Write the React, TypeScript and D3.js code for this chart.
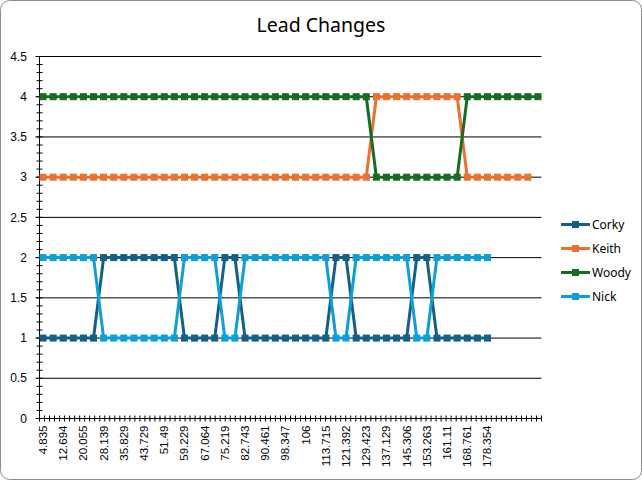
import React from 'react';
import * as d3 from 'd3';

// shown category labels (every 2nd category)
const xLabels = [
  '4.835', '12.694', '20.055', '28.139', '35.829', '43.729', '51.49', '59.229',
  '67.064', '75.219', '82.743', '90.461', '98.347', '106', '113.715', '121.392',
  '129.423', '137.129', '145.306', '153.263', '161.11', '168.761', '178.354',
];

const corky = [
  1, 1, 1, 1, 1, 1, 2, 2, 2, 2, 2, 2, 2, 2, 1, 1, 1, 1, 2, 2, 1, 1, 1, 1, 1, 1, 1,
  1, 1, 2, 2, 1, 1, 1, 1, 1, 1, 2, 2, 1, 1, 1, 1, 1, 1,
];
const keith = [
  3, 3, 3, 3, 3, 3, 3, 3, 3, 3, 3, 3, 3, 3, 3, 3, 3, 3, 3, 3, 3, 3, 3, 3, 3, 3, 3,
  3, 3, 3, 3, 3, 3, 4, 4, 4, 4, 4, 4, 4, 4, 4, 3, 3, 3, 3, 3, 3, 3,
];
const woody = [
  4, 4, 4, 4, 4, 4, 4, 4, 4, 4, 4, 4, 4, 4, 4, 4, 4, 4, 4, 4, 4, 4, 4, 4, 4, 4, 4,
  4, 4, 4, 4, 4, 4, 3, 3, 3, 3, 3, 3, 3, 3, 3, 4, 4, 4, 4, 4, 4, 4, 4,
];
const nick = [
  2, 2, 2, 2, 2, 2, 1, 1, 1, 1, 1, 1, 1, 1, 2, 2, 2, 2, 1, 1, 2, 2, 2, 2, 2, 2, 2,
  2, 2, 1, 1, 2, 2, 2, 2, 2, 2, 1, 1, 2, 2, 2, 2, 2, 2,
];

const seriesNames = ['Corky', 'Keith', 'Woody', 'Nick'];
const seriesValues = [corky, keith, woody, nick];
const seriesColors = ['#156082', '#E97132', '#196B24', '#0F9ED5'];

const yTicks = [0, 0.5, 1, 1.5, 2, 2.5, 3, 3.5, 4, 4.5];

const W = 642;
const H = 480;
const left = 39.5;
const right = 541.5;
const top = 56.5;
const bottom = 418.5;

const axisFont = '"Liberation Sans", Arial, sans-serif';
const textFont = '"Noto Sans", "Open Sans", sans-serif';

const App: React.FC = () => {
  const nCat = d3.max(seriesValues, (s) => s.length) || 0;
  const x = d3
    .scalePoint<number>()
    .domain(d3.range(nCat))
    .range([left, right])
    .padding(0.35);
  const y = d3.scaleLinear().domain([0, 4.5]).range([bottom, top]);

  const line = d3
    .line<number>()
    .x((_, i) => x(i) as number)
    .y((d) => y(d));

  const minorY = d3.range(0, 46).map((k) => k / 10);
  const xTickPos = d3.range(0, 101).map((k) => left + (k * (right - left)) / 100);

  const legendY = [224.5, 248.5, 272.5, 296.5];

  return (
    <svg
      width={W}
      height={H}
      style={{ position: 'absolute', left: 0, top: 0, background: '#fff' }}
    >
      <rect x={0.5} y={0.5} width={W - 1} height={H - 1} rx={9} fill="#fff" stroke="#8c8c8c" />

      <text
        x={321}
        y={32}
        textAnchor="middle"
        fontFamily={textFont}
        fontSize={19.5}
        fill="#000"
      >
        Lead Changes
      </text>

      {/* gridlines */}
      {yTicks.map((t) => (
        <line key={'g' + t} x1={left} x2={right} y1={y(t)} y2={y(t)} stroke="#000" strokeWidth={1} />
      ))}

      {/* y axis */}
      <line x1={left} x2={left} y1={top} y2={bottom} stroke="#000" />
      {minorY.map((t) => (
        <line key={'my' + t} x1={left - 3} x2={left + 3} y1={y(t)} y2={y(t)} stroke="#000" />
      ))}
      {yTicks.map((t) => (
        <line key={'My' + t} x1={left - 4} x2={left} y1={y(t)} y2={y(t)} stroke="#000" />
      ))}
      {yTicks.map((t) => (
        <text
          key={'yl' + t}
          x={27}
          y={y(t)}
          dy="0.35em"
          textAnchor="end"
          fontFamily={axisFont}
          fontSize={12}
          fill="#000"
        >
          {t}
        </text>
      ))}

      {/* x axis */}
      {xTickPos.map((p, k) => (
        <line key={'xt' + k} x1={p} x2={p} y1={bottom - 3} y2={bottom + 3} stroke="#000" />
      ))}
      {xLabels.map((lab, k) => (
        <text
          key={'xl' + k}
          transform={`translate(${x(k * 2)},${bottom + 7}) rotate(-90)`}
          dy="0.35em"
          textAnchor="end"
          fontFamily={axisFont}
          fontSize={11.5}
          fill="#000"
        >
          {lab}
        </text>
      ))}

      {/* series */}
      {seriesValues.map((vals, si) => (
        <g key={seriesNames[si]}>
          <path
            d={line(vals) || ''}
            fill="none"
            stroke={seriesColors[si]}
            strokeWidth={3}
            strokeLinejoin="round"
          />
          {vals.map((v, i) => (
            <rect
              key={i}
              x={(x(i) as number) - 3}
              y={y(v) - 3}
              width={6}
              height={6}
              fill={seriesColors[si]}
              stroke={seriesColors[si]}
              strokeWidth={1}
            />
          ))}
        </g>
      ))}

      {/* legend */}
      {seriesNames.map((name, si) => (
        <g key={'lg' + name} transform={`translate(561,${legendY[si]})`}>
          <line x1={0} x2={29} y1={0} y2={0} stroke={seriesColors[si]} strokeWidth={3} />
          <rect x={11.5} y={-3} width={6} height={6} fill={seriesColors[si]} stroke={seriesColors[si]} />
          <text x={31} y={0} dy="0.35em" fontFamily={textFont} fontSize={12} fill="#000">
            {name}
          </text>
        </g>
      ))}
    </svg>
  );
};

export default App;
